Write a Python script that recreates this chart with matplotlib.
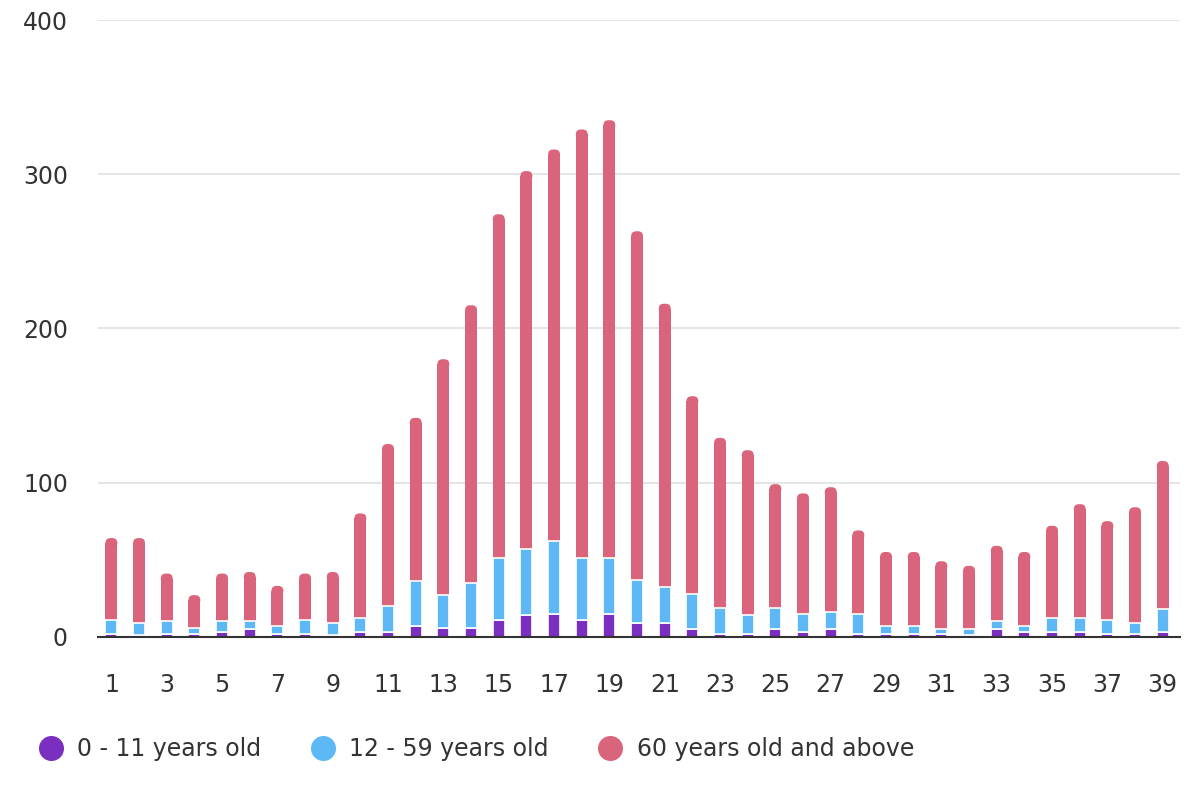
import matplotlib.pyplot as plt
import numpy as np
from matplotlib.patches import FancyBboxPatch

# data
days = np.arange(1, 40)
kids = [2, 1, 2, 2, 3, 5, 2, 2, 1, 3,
        3, 7, 6, 6, 11, 14, 15, 11, 15, 9,
        9, 5, 2, 2, 5, 3, 5, 2, 2, 2,
        2, 1, 5, 3, 3, 3, 2, 2, 3]
adults_top = [11, 9, 10, 6, 10, 10, 7, 11, 9, 12,
              20, 36, 27, 35, 51, 57, 62, 51, 51, 37,
              32, 28, 19, 14, 19, 15, 16, 15, 7, 7,
              5, 5, 10, 7, 12, 12, 11, 9, 18]
totals = [64, 64, 41, 27, 41, 42, 33, 41, 42, 80,
          125, 142, 180, 215, 274, 302, 316, 329, 335, 263,
          216, 156, 129, 121, 99, 93, 97, 69, 55, 55,
          49, 46, 59, 55, 72, 86, 75, 84, 114]

kids = np.array(kids)
adults = np.array(adults_top) - kids
totals = np.array(totals)
seniors = totals - np.array(adults_top)

c_kids = '#7b2fc0'
c_adults = '#5fb8f6'
c_seniors = '#d9647b'
txt = '#333333'

fig = plt.figure(figsize=(12, 8), dpi=100)
ax = fig.add_axes([0.082, 0.204, 0.901, 0.771])
ax.set_xlim(0.53, 39.61)
ax.set_ylim(0, 400)

w = 0.43
# rounding of the bar tops, in pixels converted to data units
r_px = 5
bbox = ax.get_window_extent()
xpp = (39.61 - 0.53) / bbox.width
ypp = 400 / bbox.height
rx = r_px * xpp
ry = r_px * ypp

ax.bar(days, kids, w, color=c_kids, edgecolor='white', linewidth=1.2, zorder=3)
ax.bar(days, adults, w, bottom=kids, color=c_adults, edgecolor='white', linewidth=1.2, zorder=3)
ax.bar(days, seniors - ry, w, bottom=kids + adults, color=c_seniors,
       linewidth=0, zorder=2.9)
# rounded caps on top of the red segments
for d, t in zip(days, totals):
    cap = FancyBboxPatch((d - w / 2, t - 2 * ry), w, 2 * ry,
                         boxstyle='round,pad=0,rounding_size=%f' % rx,
                         mutation_aspect=ypp / xpp,
                         facecolor=c_seniors, edgecolor='none', zorder=2.9)
    ax.add_patch(cap)

ax.set_yticks([0, 100, 200, 300, 400])
ax.set_xticks(np.arange(1, 40, 2))
ax.grid(axis='y', color='#e0e0e0', linewidth=1.2, zorder=0)
for s in ['top', 'right', 'left']:
    ax.spines[s].set_visible(False)
ax.spines['bottom'].set_color(txt)
ax.spines['bottom'].set_linewidth(1.5)
ax.spines['bottom'].set_zorder(4)
ax.tick_params(axis='both', length=0, labelsize=17, colors=txt)
ax.tick_params(axis='y', pad=22)
ax.tick_params(axis='x', pad=26)

labels = ['0 - 11 years old', '12 - 59 years old', '60 years old and above']
colors = [c_kids, c_adults, c_seniors]
handles = [plt.Line2D([], [], marker='o', linestyle='', markersize=17,
                      color=c) for c in colors]
fig.legend(handles, labels, loc='lower left', bbox_to_anchor=(0.005, 0.022),
           ncol=3, frameon=False, fontsize=17, handletextpad=0.12,
           columnspacing=1.6, labelcolor=txt)

fig.savefig('out.png')
